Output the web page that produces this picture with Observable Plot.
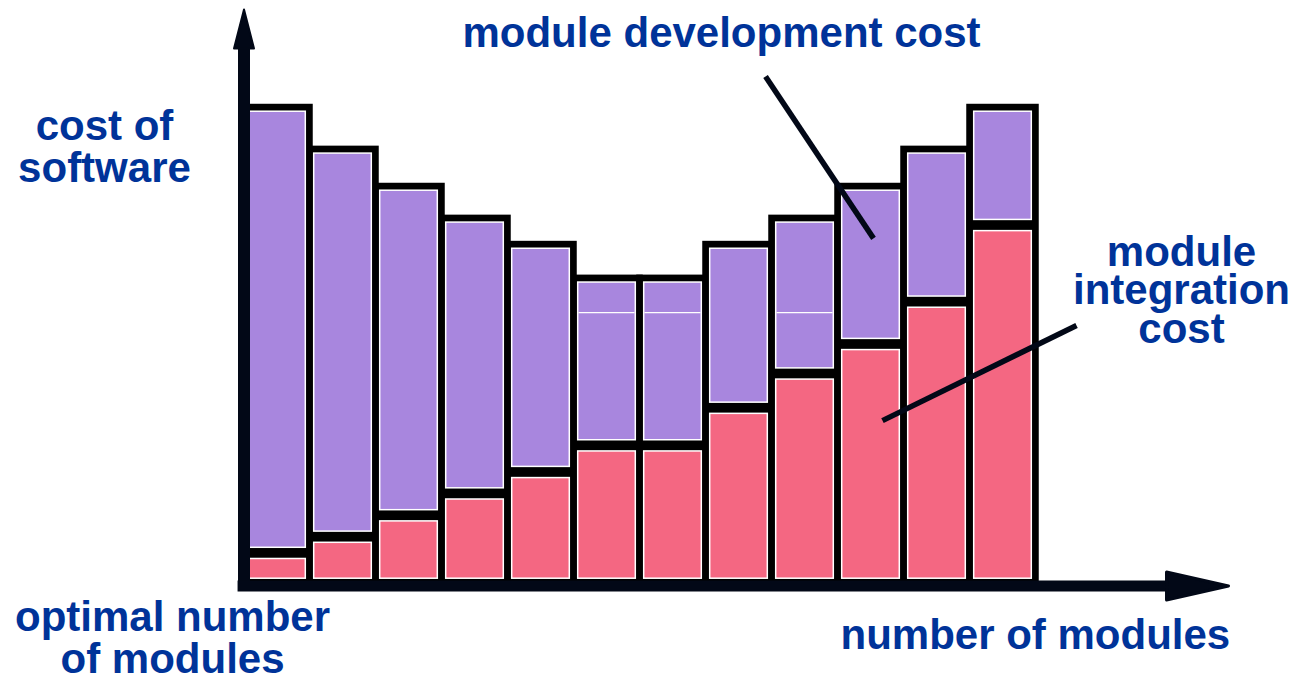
<!DOCTYPE html>
<html>
<head>
<meta charset="utf-8">
<script src="https://cdn.jsdelivr.net/npm/d3@7"></script>
<script src="https://cdn.jsdelivr.net/npm/@observablehq/plot@0.6"></script>
<style>
  html, body { margin: 0; padding: 0; background: #ffffff; }
  #chart svg { display: block; overflow: visible; }
</style>
</head>
<body>
<div id="chart"></div>
<script>
// ---- data (arbitrary cost units, tallest bar ≈ 100) ----
const moduleCounts    = [1, 2, 3, 4, 5, 6, 7, 8, 9, 10, 11, 12];
const integrationCost = [5.7, 9.1, 13.6, 18.2, 22.7, 28.3, 28.3, 36.2, 43.4, 49.6, 58.5, 74.6];
const developmentCost = [93.7, 81.5, 69.2, 57.9, 47.9, 35.2, 35.2, 34.4, 32.7, 33.2, 32.1, 24.8];
const seamBars  = [6, 7, 9];   // bars showing a thin white seam inside the development block
const seamLevel = 56.3;

// ---- annotations ----
const labels = [
  {x: 7.235,  y: 118.3, text: "module development cost", anchor: "middle", lh: 1.0},
  {x: -2.114, y: 98.74, text: "cost of\nsoftware", anchor: "middle", lh: 0.99},
  {x: 14.205, y: 71.9, text: "module\nintegration\ncost", anchor: "middle", lh: 0.92},
  {x: -1.083, y: -4.245, text: "optimal number\nof modules", anchor: "middle", lh: 1.0},
  {x: 9.038,  y: -8.03, text: "number of modules", anchor: "start", lh: 1.0}
];
const leaders = [
  {x1: 7.902, y1: 105.9, x2: 9.538, y2: 71.9},
  {x1: 12.614, y1: 53.6, x2: 9.674, y2: 33.6}
];

const bars = moduleCounts.map((m, i) => ({
  module: m,
  x1: i, x2: i + 1,
  integration: integrationCost[i],
  total: integrationCost[i] + developmentCost[i]
}));
const seams = seamBars.map(m => ({x1: m - 1, x2: m, y: seamLevel}));

const navy = "#020817";
const textBlue = "#003399";
const purple = "#A886DE";
const pink = "#F46782";

const upHead = {draw(ctx) { ctx.moveTo(0, 0); ctx.lineTo(10, 39); ctx.lineTo(-10, 39); ctx.closePath(); }};
const rightHead = {draw(ctx) { ctx.moveTo(0, 0); ctx.lineTo(-62, 14); ctx.lineTo(-62, -14); ctx.closePath(); }};

const yAxisLine = [{x: 0, y1: -2.3, y2: 112}];
const xAxisLine = [{y: -1.156, x1: -0.09, x2: 14.1}];
const yArrow = [{x: 0, y: 120}];
const xArrow = [{x: 14.917, y: -1.156}];

const plot = Plot.plot({
  width: 1297,
  height: 678,
  marginLeft: 243.5,
  marginRight: 30.5,
  marginTop: 9,
  marginBottom: 98,
  x: {domain: [0, 15.5], axis: null},
  y: {domain: [0, 120], axis: null},
  style: {background: "#ffffff"},
  marks: [
    // black outlines of each bar
    Plot.rectY(bars, {x1: "x1", x2: "x2", y1: 0, y2: "total", fill: "#000", stroke: "#000", strokeWidth: 6.5}),
    // development cost block (top)
    Plot.rectY(bars, {x1: "x1", x2: "x2", y1: "integration", y2: "total", fill: purple, stroke: "#fff", strokeWidth: 1.5,
      insetLeft: 4.2, insetRight: 4.2, insetTop: 4.2, insetBottom: 5.6}),
    // integration cost block (bottom)
    Plot.rectY(bars, {x1: "x1", x2: "x2", y1: 0, y2: "integration", fill: pink, stroke: "#fff", strokeWidth: 1.5,
      insetLeft: 4.2, insetRight: 4.2, insetTop: 5.6, insetBottom: 1.8}),
    // thin seams
    Plot.ruleY(seams, {x1: "x1", x2: "x2", y: "y", stroke: "#fff", strokeWidth: 1.2, insetLeft: 5, insetRight: 5}),
    // axes with arrowheads
    Plot.ruleX(yAxisLine, {x: "x", y1: "y1", y2: "y2", stroke: navy, strokeWidth: 12}),
    Plot.ruleY(xAxisLine, {y: "y", x1: "x1", x2: "x2", stroke: navy, strokeWidth: 11}),
    Plot.dot(yArrow, {x: "x", y: "y", symbol: upHead, fill: navy, stroke: navy, strokeWidth: 2, strokeLinejoin: "round"}),
    Plot.dot(xArrow, {x: "x", y: "y", symbol: rightHead, fill: navy, stroke: navy, strokeWidth: 3, strokeLinejoin: "round"}),
    // leader lines
    Plot.link(leaders, {x1: "x1", y1: "y1", x2: "x2", y2: "y2", stroke: navy, strokeWidth: 5.5}),
    // labels
    ...labels.map(l => Plot.text([l], {
      x: "x", y: "y", text: "text",
      textAnchor: l.anchor, lineAnchor: "top", lineHeight: l.lh,
      fontFamily: "'Liberation Sans', Arial, Helvetica, sans-serif",
      fontWeight: "bold", fontSize: 42, fill: textBlue
    }))
  ]
});
document.getElementById("chart").appendChild(plot);
</script>
</body>
</html>
